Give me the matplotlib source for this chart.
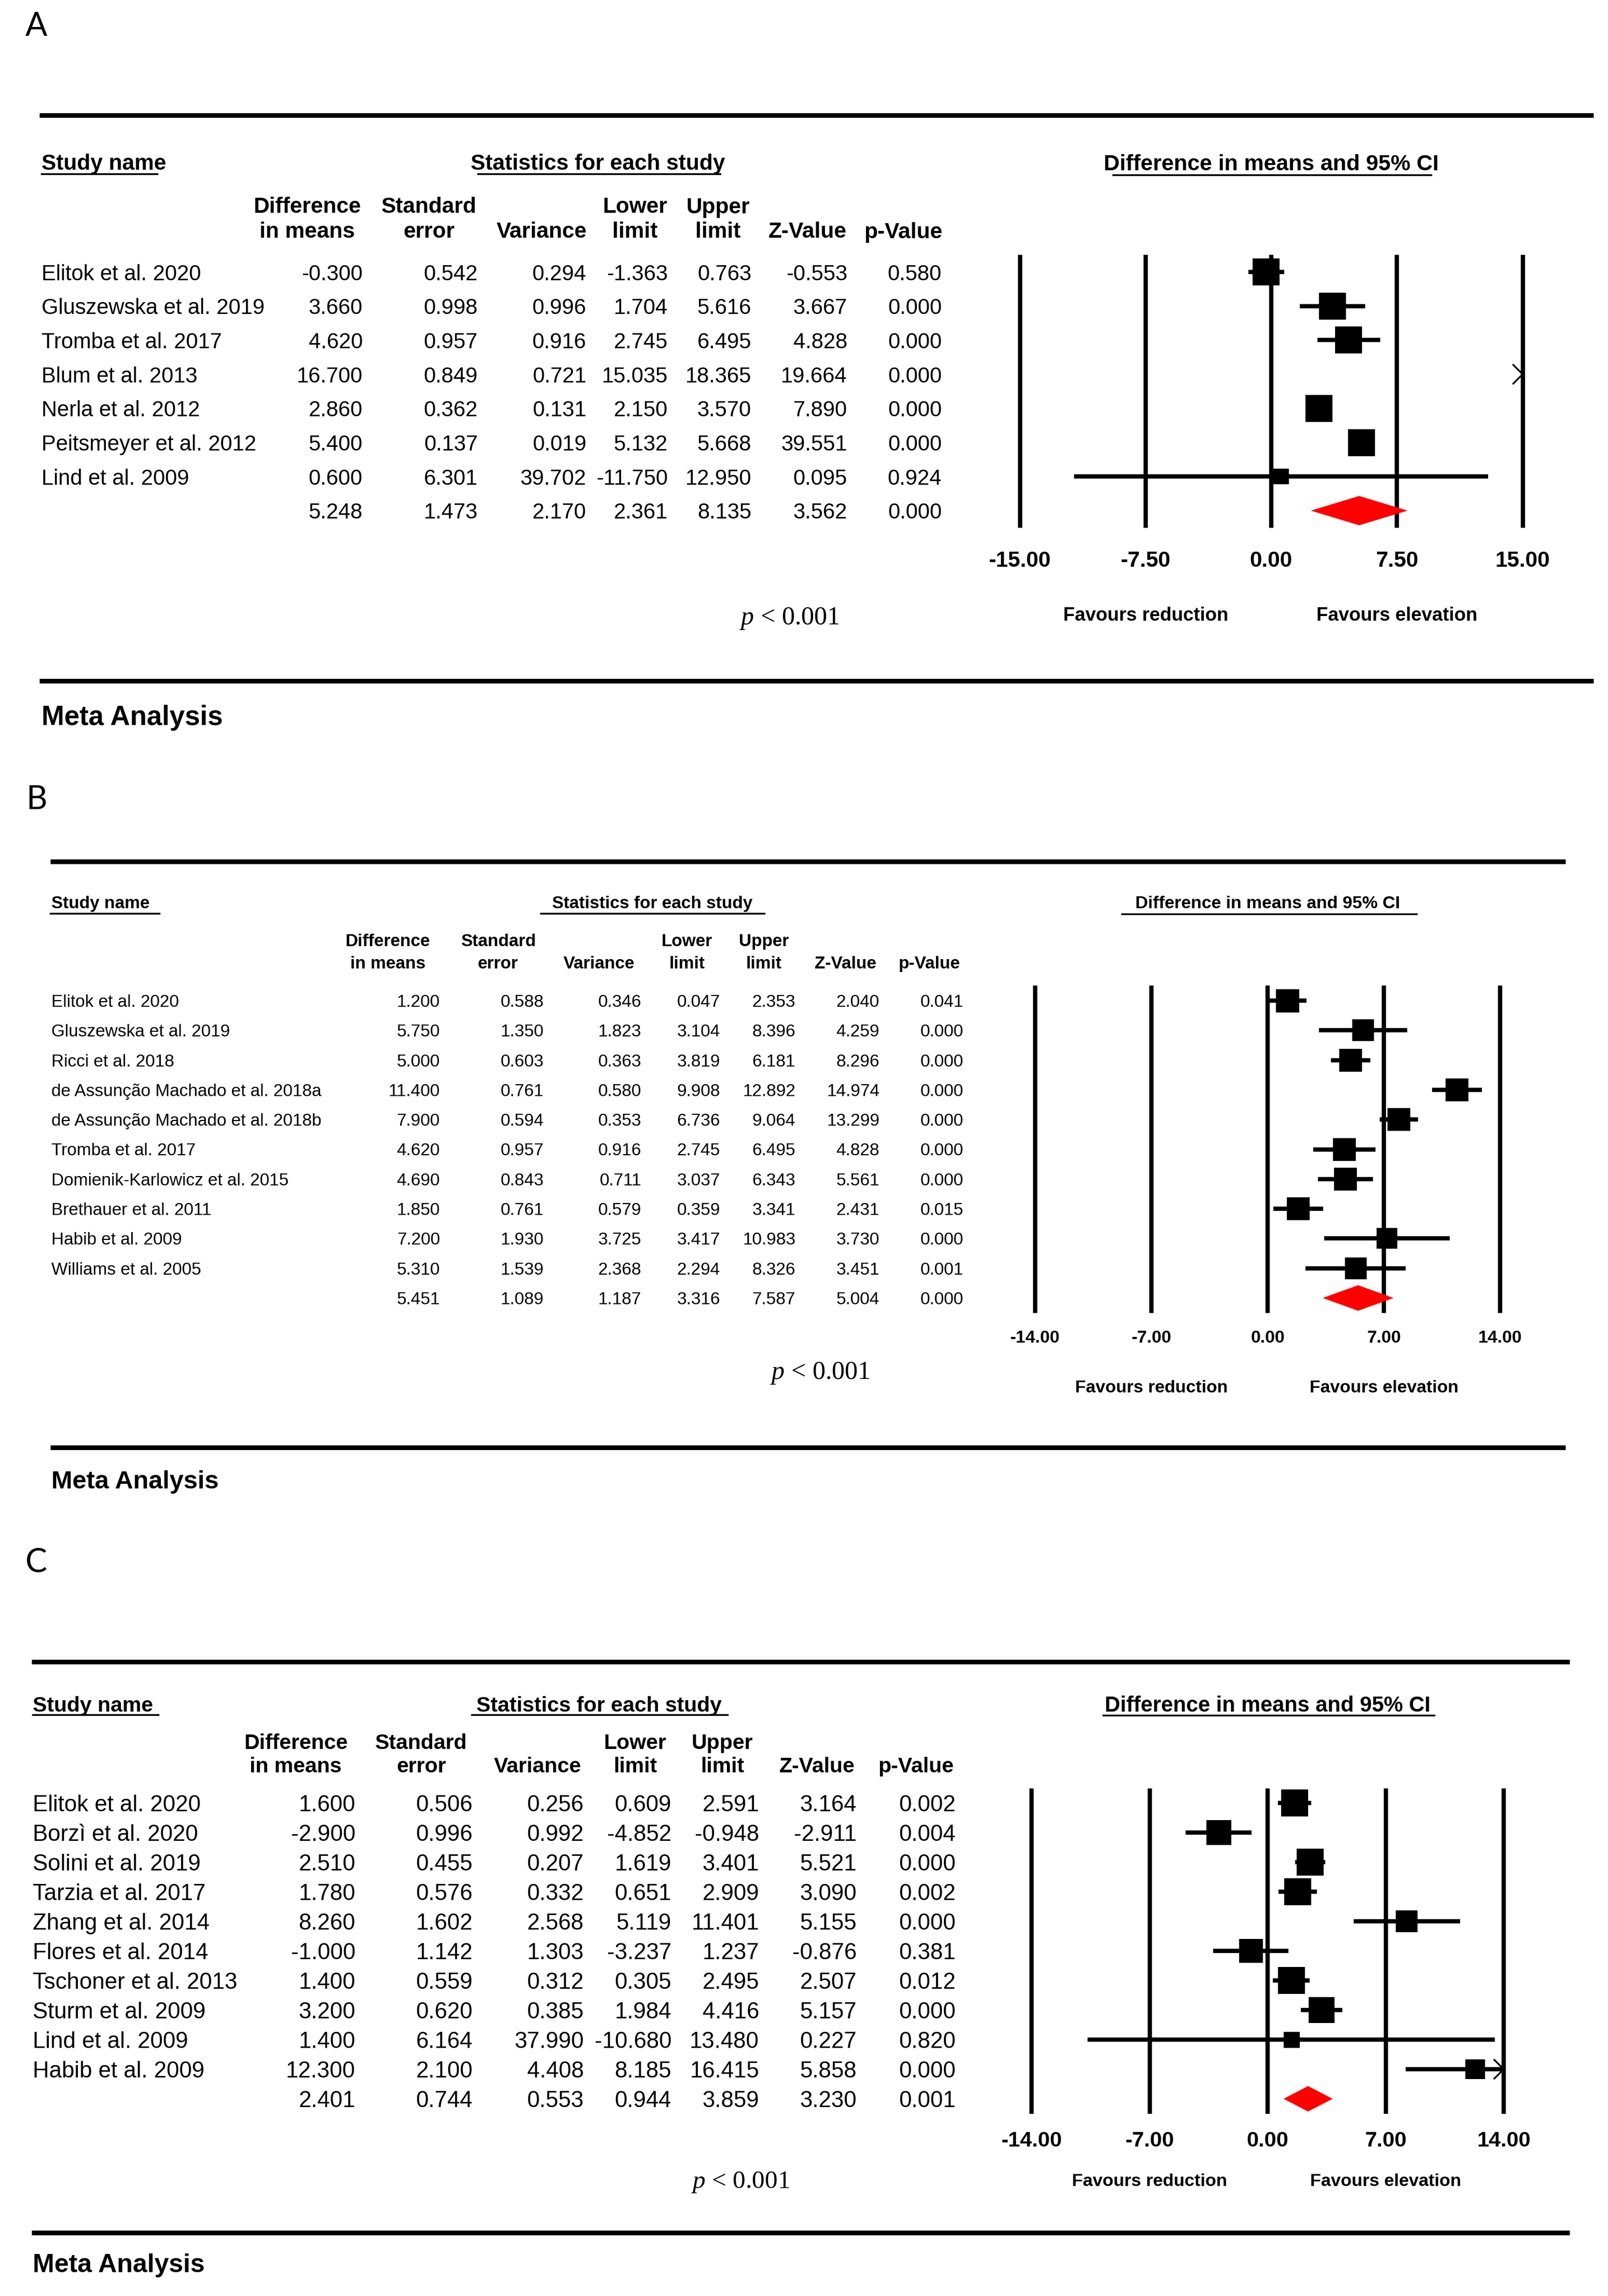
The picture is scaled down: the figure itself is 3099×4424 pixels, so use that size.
import matplotlib
matplotlib.use("Agg")
import matplotlib.pyplot as plt
import numpy as np

plt.rcParams['font.family'] = ['Liberation Sans', 'DejaVu Sans']
plt.rcParams['mathtext.fontset'] = 'custom'
plt.rcParams['mathtext.it'] = 'Liberation Serif:italic'
plt.rcParams['mathtext.rm'] = 'Liberation Serif'

W, H = 3099, 4424
VA = "center_baseline"

# ---------------- data ----------------
col_heads = [("Difference", "in means"), ("Standard", "error"), ("", "Variance"),
             ("Lower", "limit"), ("Upper", "limit"), ("", "Z-Value"), ("", "p-Value")]

studies_a = ["Elitok et al. 2020", "Gluszewska et al. 2019", "Tromba et al. 2017",
             "Blum et al. 2013", "Nerla et al. 2012", "Peitsmeyer et al. 2012",
             "Lind et al. 2009"]
diff_a = [-0.300, 3.660, 4.620, 16.700, 2.860, 5.400, 0.600]
se_a = [0.542, 0.998, 0.957, 0.849, 0.362, 0.137, 6.301]
var_a = [0.294, 0.996, 0.916, 0.721, 0.131, 0.019, 39.702]
lower_a = [-1.363, 1.704, 2.745, 15.035, 2.150, 5.132, -11.750]
upper_a = [0.763, 5.616, 6.495, 18.365, 3.570, 5.668, 12.950]
z_a = [-0.553, 3.667, 4.828, 19.664, 7.890, 39.551, 0.095]
p_a = [0.580, 0.000, 0.000, 0.000, 0.000, 0.000, 0.924]
summary_a = [5.248, 1.473, 2.170, 2.361, 8.135, 3.562, 0.000]
ticks_a = [-15.0, -7.5, 0.0, 7.5, 15.0]

studies_b = ["Elitok et al. 2020", "Gluszewska et al. 2019", "Ricci et al. 2018",
             "de Assunção Machado et al. 2018a", "de Assunção Machado et al. 2018b",
             "Tromba et al. 2017", "Domienik-Karlowicz et al. 2015",
             "Brethauer et al. 2011", "Habib et al. 2009", "Williams et al. 2005"]
diff_b = [1.200, 5.750, 5.000, 11.400, 7.900, 4.620, 4.690, 1.850, 7.200, 5.310]
se_b = [0.588, 1.350, 0.603, 0.761, 0.594, 0.957, 0.843, 0.761, 1.930, 1.539]
var_b = [0.346, 1.823, 0.363, 0.580, 0.353, 0.916, 0.711, 0.579, 3.725, 2.368]
lower_b = [0.047, 3.104, 3.819, 9.908, 6.736, 2.745, 3.037, 0.359, 3.417, 2.294]
upper_b = [2.353, 8.396, 6.181, 12.892, 9.064, 6.495, 6.343, 3.341, 10.983, 8.326]
z_b = [2.040, 4.259, 8.296, 14.974, 13.299, 4.828, 5.561, 2.431, 3.730, 3.451]
p_b = [0.041, 0.000, 0.000, 0.000, 0.000, 0.000, 0.000, 0.015, 0.000, 0.001]
summary_b = [5.451, 1.089, 1.187, 3.316, 7.587, 5.004, 0.000]
ticks_b = [-14.0, -7.0, 0.0, 7.0, 14.0]

studies_c = ["Elitok et al. 2020", "Borzì et al. 2020", "Solini et al. 2019",
             "Tarzia et al. 2017", "Zhang et al. 2014", "Flores et al. 2014",
             "Tschoner et al. 2013", "Sturm et al. 2009", "Lind et al. 2009",
             "Habib et al. 2009"]
diff_c = [1.600, -2.900, 2.510, 1.780, 8.260, -1.000, 1.400, 3.200, 1.400, 12.300]
se_c = [0.506, 0.996, 0.455, 0.576, 1.602, 1.142, 0.559, 0.620, 6.164, 2.100]
var_c = [0.256, 0.992, 0.207, 0.332, 2.568, 1.303, 0.312, 0.385, 37.990, 4.408]
lower_c = [0.609, -4.852, 1.619, 0.651, 5.119, -3.237, 0.305, 1.984, -10.680, 8.185]
upper_c = [2.591, -0.948, 3.401, 2.909, 11.401, 1.237, 2.495, 4.416, 13.480, 16.415]
z_c = [3.164, -2.911, 5.521, 3.090, 5.155, -0.876, 2.507, 5.157, 0.227, 5.858]
p_c = [0.002, 0.004, 0.000, 0.002, 0.000, 0.381, 0.012, 0.000, 0.820, 0.000]
summary_c = [2.401, 0.744, 0.553, 0.944, 3.859, 3.230, 0.001]
ticks_c = [-14.0, -7.0, 0.0, 7.0, 14.0]

# ---------------- layout (pixels of the page) ----------------
lay_a = dict(tag="A", tag_y=51, top=222, bottom=1312, lx=(76, 3071), name_x=80,
             head_y=312, ul_y=335, study_ul=(80, 303), stats_cx=1152, stats_ul=(921, 1388),
             hdr_y=(395, 443), hdr_cx=[592, 827, 1044, 1224, 1384, 1556, 1741],
             col_r=[699, 921, 1130, 1287, 1448, 1633, 1815], row0=524, dy=65.7,
             fs_row=30, fs_head=30.5, zero_x=2450, ppu=32.3, lim=15, fs_tick=30.4,
             pad=32, fav_y=1182, fs_fav=26.3, dim_ul=(2145, 2758, 337), fs_dim=30.8,
             p_xy=(1521, 1185), fs_p=36, meta_y=1377, fs_meta=38, side=53, min_side=30)
lay_b = dict(tag="B", tag_y=1541, top=1660, bottom=2789, lx=(97, 3017), name_x=99,
             head_y=1738, ul_y=1760, study_ul=(97, 307), stats_cx=1257, stats_ul=(1042, 1473),
             hdr_y=(1811, 1854), hdr_cx=[748, 960, 1155, 1324, 1472, 1629, 1791],
             col_r=[848, 1048, 1236, 1388, 1533, 1695, 1857], row0=1928, dy=57.3,
             fs_row=24, fs_head=24, zero_x=2443, ppu=32.0, lim=14, fs_tick=24.3,
             pad=24, fav_y=2671, fs_fav=24.3, dim_ul=(2162, 2730, 1761), fs_dim=24.3,
             p_xy=(1580, 2639), fs_p=36, meta_y=2851, fs_meta=35, side=45, min_side=30)
lay_c = dict(tag="C", tag_y=3011, top=3202, bottom=4302, lx=(61, 3025), name_x=63,
             head_y=3283, ul_y=3304, study_ul=(63, 305), stats_cx=1154, stats_ul=(909, 1402),
             hdr_y=(3355, 3400), hdr_cx=[570, 812, 1036, 1224, 1392, 1575, 1765],
             col_r=[685, 911, 1125, 1294, 1463, 1651, 1842], row0=3474, dy=57.0,
             fs_row=31.5, fs_head=29.5, zero_x=2443, ppu=32.5, lim=14, fs_tick=29.8,
             pad=24, fav_y=4200, fs_fav=24.7, dim_ul=(2126, 2764, 3305), fs_dim=29.9,
             p_xy=(1427, 4199), fs_p=35.5, meta_y=4360, fs_meta=36, side=52, min_side=31)

PX2PT = 72.0 / 100.0


def random_weights(y, v):
    # DerSimonian-Laird random-effects weights
    y = np.asarray(y)
    v = np.asarray(v)
    w = 1.0 / v
    ybar = np.sum(w * y) / np.sum(w)
    q = np.sum(w * (y - ybar) ** 2)
    c = np.sum(w) - np.sum(w ** 2) / np.sum(w)
    tau2 = max(0.0, (q - (len(y) - 1)) / c)
    return 1.0 / (v + tau2)


def draw_panel(fig, page, lay, names, cols, summary, ticks):
    n = len(names)
    # panel letter and rules
    page.text(70, lay["tag_y"], lay["tag"], fontsize=45, family="Lato",
              ha="center", va="center")
    for yy in (lay["top"], lay["bottom"]):
        page.plot(lay["lx"], [yy, yy], color="black", lw=6.5, solid_capstyle="butt")
    page.text(lay["name_x"], lay["meta_y"], "Meta Analysis", fontsize=lay["fs_meta"],
              fontweight="bold", va=VA)

    # table headers
    page.text(lay["name_x"], lay["head_y"], "Study name", fontsize=lay["fs_head"],
              fontweight="bold", va=VA)
    page.plot(lay["study_ul"], [lay["ul_y"]] * 2, color="black", lw=2.5)
    page.text(lay["stats_cx"], lay["head_y"], "Statistics for each study",
              fontsize=lay["fs_head"], fontweight="bold", ha="center", va=VA)
    page.plot(lay["stats_ul"], [lay["ul_y"]] * 2, color="black", lw=2.5)
    for (l1, l2), cx in zip(col_heads, lay["hdr_cx"]):
        if l1:
            page.text(cx, lay["hdr_y"][0], l1, fontsize=lay["fs_head"],
                      fontweight="bold", ha="center", va=VA)
        page.text(cx, lay["hdr_y"][1], l2, fontsize=lay["fs_head"],
                  fontweight="bold", ha="center", va=VA)

    # table rows
    for i in range(n + 1):
        yy = lay["row0"] + i * lay["dy"]
        if i < n:
            page.text(lay["name_x"], yy, names[i], fontsize=lay["fs_row"], va=VA)
            vals = [c[i] for c in cols]
        else:
            vals = summary
        for v, xr in zip(vals, lay["col_r"]):
            page.text(xr, yy, f"{v:.3f}", fontsize=lay["fs_row"], ha="right", va=VA)

    page.text(lay["p_xy"][0], lay["p_xy"][1], r"$p$ < 0.001", fontsize=lay["fs_p"],
              family="Liberation Serif", ha="center", va=VA)

    # forest plot axes
    lim = lay["lim"]
    ppu = lay["ppu"]
    xl, xr = -lim * 1.15, lim * 1.15
    left = lay["zero_x"] + xl * ppu
    width = (xr - xl) * ppu
    top = lay["row0"] - 0.5 * lay["dy"]
    bot = lay["row0"] + (n + 0.5) * lay["dy"]
    ax = fig.add_axes([left / W, 1 - bot / H, width / W, (bot - top) / H])
    ax.set_xlim(xl, xr)
    ax.set_ylim(n + 0.5, -0.5)
    for s in ax.spines.values():
        s.set_visible(False)
    ax.set_yticks([])
    ax.patch.set_alpha(0)
    ax.set_xticks(ticks)
    ax.set_xticklabels([f"{t:.2f}" for t in ticks], fontweight="bold")
    ax.tick_params(axis="x", length=0, pad=lay["pad"], labelsize=lay["fs_tick"])
    ax.vlines(ticks, -0.5, n + 0.5, color="black", lw=6, zorder=1)

    est, lo, hi = cols[0], cols[3], cols[4]
    w = random_weights(est, cols[2])
    sides = np.maximum(lay["side"] * np.sqrt(w / w.max()), lay["min_side"])
    adx = 18 / ppu
    ady = 18 / lay["dy"]
    for i in range(n):
        a, b = max(lo[i], -lim), min(hi[i], lim)
        if a < b:
            ax.hlines(i, a, b, color="black", lw=6, zorder=2)
        if -lim <= est[i] <= lim:
            ax.scatter([est[i]], [i], marker="s", s=(sides[i] * PX2PT) ** 2,
                       color="black", linewidths=0, zorder=3)
        if hi[i] > lim:
            ax.plot([lim - adx, lim, lim - adx], [i - ady, i, i + ady],
                    color="black", lw=2.4, zorder=3, clip_on=False)
        if lo[i] < -lim:
            ax.plot([-lim + adx, -lim, -lim + adx], [i - ady, i, i + ady],
                    color="black", lw=2.4, zorder=3, clip_on=False)
    h = 0.43
    ax.fill([summary[3], summary[0], summary[4], summary[0]], [n, n - h, n, n + h],
            color="red", lw=0, zorder=4)

    # forest header and direction labels
    page.text(lay["zero_x"], lay["head_y"], "Difference in means and 95% CI",
              fontsize=lay["fs_dim"], fontweight="bold", ha="center", va=VA)
    page.plot(lay["dim_ul"][:2], [lay["dim_ul"][2]] * 2, color="black", lw=2.5)
    page.text(lay["zero_x"] + ticks[1] * ppu, lay["fav_y"], "Favours reduction",
              fontsize=lay["fs_fav"], fontweight="bold", ha="center", va=VA)
    page.text(lay["zero_x"] + ticks[3] * ppu, lay["fav_y"], "Favours elevation",
              fontsize=lay["fs_fav"], fontweight="bold", ha="center", va=VA)


fig = plt.figure(figsize=(W / 100, H / 100), dpi=100)
page = fig.add_axes([0, 0, 1, 1])
page.set_xlim(0, W)
page.set_ylim(H, 0)
page.axis("off")

draw_panel(fig, page, lay_a, studies_a,
           [diff_a, se_a, var_a, lower_a, upper_a, z_a, p_a], summary_a, ticks_a)
draw_panel(fig, page, lay_b, studies_b,
           [diff_b, se_b, var_b, lower_b, upper_b, z_b, p_b], summary_b, ticks_b)
draw_panel(fig, page, lay_c, studies_c,
           [diff_c, se_c, var_c, lower_c, upper_c, z_c, p_c], summary_c, ticks_c)

fig.savefig("out.png", dpi=100, facecolor="white")
